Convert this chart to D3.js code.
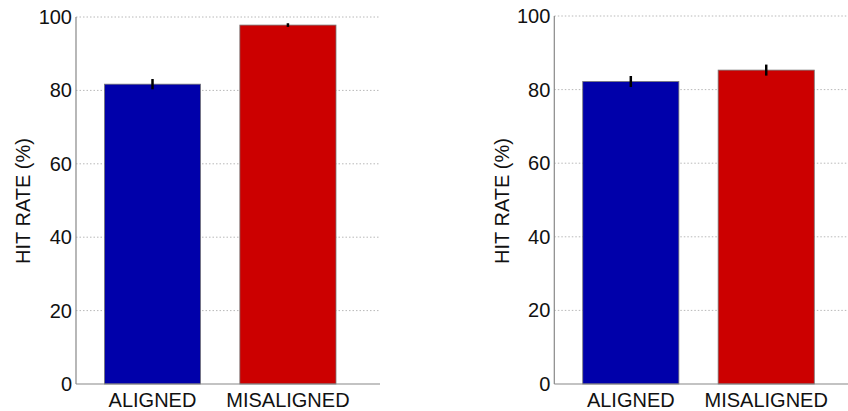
<!DOCTYPE html>
<html><head><meta charset="utf-8">
<script src="https://cdn.jsdelivr.net/npm/d3@7"></script>
<style>body{margin:0;background:#fff}svg{display:block}text{font-family:"Liberation Sans",Arial,sans-serif;fill:#111}</style>
</head><body><svg id="c" width="848" height="411"></svg>
<script>
const categories = ["ALIGNED", "MISALIGNED"];
const colors = ["#0000AA", "#CC0000"];
const leftValues = [81.7, 97.8];
const leftErrors = [1.4, 0.5];
const rightValues = [82.2, 85.3];
const rightErrors = [1.5, 1.5];
const yTicks = [0, 20, 40, 60, 80, 100];
const yLabel = "HIT RATE (%)";

const svg = d3.select("#c");

function panel(x0, yTop, values, errors, titleX) {
  const x = d3.scaleLinear().domain([0.435, 2.68]).range([x0, x0 + 304]);
  const y = d3.scaleLinear().domain([0, 100]).range([384, yTop]);
  const g = svg.append("g");
  const bw = 0.71;
  g.selectAll(".grid").data(yTicks.filter(t => t > 0)).join("line")
    .attr("x1", x0).attr("x2", x.range()[1]).attr("y1", d => y(d)).attr("y2", d => y(d))
    .attr("stroke", "#b8b8b8").attr("stroke-width", 1).attr("stroke-dasharray", "1.5,2");
  g.selectAll(".bar").data(values).join("rect")
    .attr("x", (d, i) => x(i + 1 - bw / 2)).attr("width", x(bw) - x(0))
    .attr("y", d => y(d)).attr("height", d => y(0) - y(d))
    .attr("fill", (d, i) => colors[i]).attr("stroke", "#777").attr("stroke-width", 0.8);
  g.selectAll(".err").data(values).join("line")
    .attr("x1", (d, i) => x(i + 1)).attr("x2", (d, i) => x(i + 1))
    .attr("y1", (d, i) => y(d + errors[i])).attr("y2", (d, i) => y(d - errors[i]))
    .attr("stroke", "#000").attr("stroke-width", 2.5);
  g.append("line").attr("x1", x0).attr("x2", x0).attr("y1", y(100)).attr("y2", y(0))
    .attr("stroke", "#888").attr("stroke-width", 1.2);
  g.append("line").attr("x1", x0).attr("x2", x.range()[1]).attr("y1", y(0)).attr("y2", y(0))
    .attr("stroke", "#888").attr("stroke-width", 1.2);
  g.selectAll(".yt").data(yTicks).join("text")
    .attr("x", x0 - 4).attr("y", d => y(d)).attr("dy", "0.35em")
    .attr("text-anchor", "end").attr("font-size", 20).text(d => d);
  g.selectAll(".xt").data(categories).join("text")
    .attr("x", (d, i) => x(i + 1)).attr("y", 407)
    .attr("text-anchor", "middle").attr("font-size", 20).text(d => d);
  g.append("text").attr("transform", `translate(${titleX},201) rotate(-90)`)
    .attr("text-anchor", "middle").attr("font-size", 20).text(yLabel);
}

panel(76, 17, leftValues, leftErrors, 30);
panel(554.3, 16, rightValues, rightErrors, 509);
</script></body></html>
